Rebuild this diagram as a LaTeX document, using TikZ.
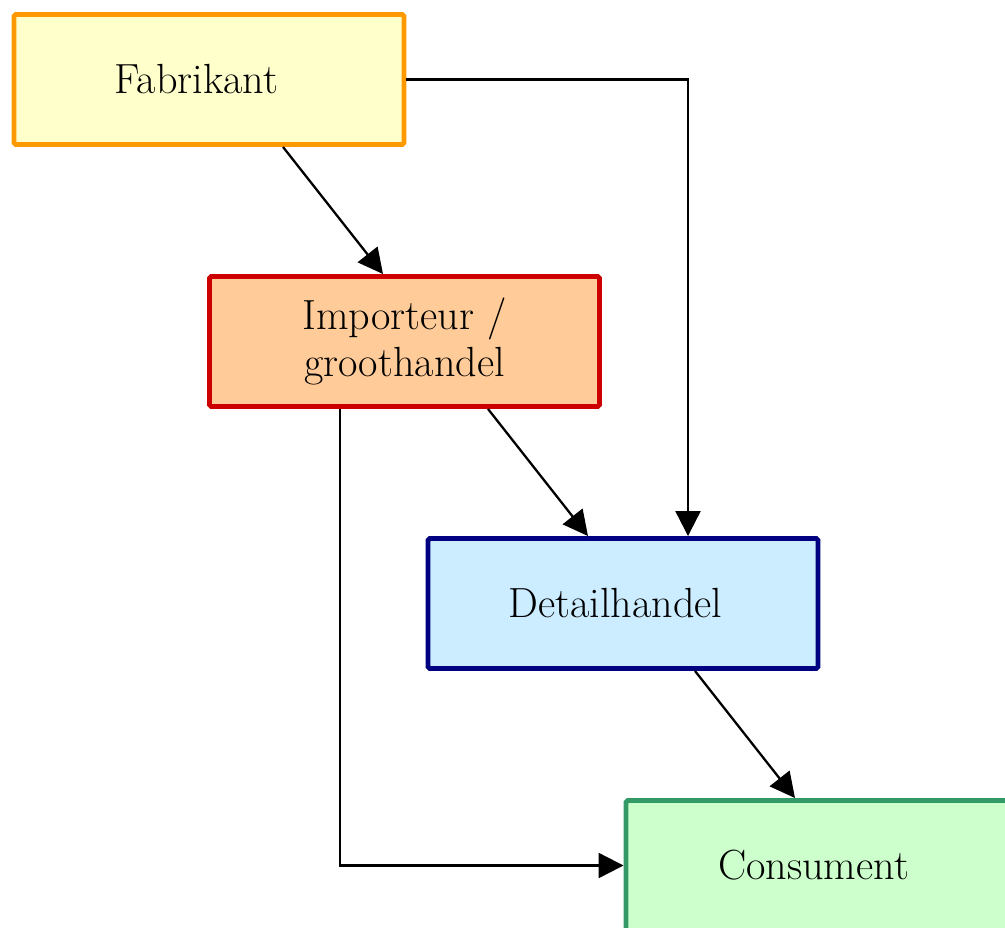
\documentclass[tikz,border=0pt]{standalone}
\usetikzlibrary{arrows.meta}

\definecolor{fabfill}{HTML}{FFFFCC}
\definecolor{fabline}{HTML}{FF9900}
\definecolor{impfill}{HTML}{FFCC99}
\definecolor{impline}{HTML}{CC0000}
\definecolor{detfill}{HTML}{CCECFF}
\definecolor{detline}{HTML}{000080}
\definecolor{conFill}{HTML}{CCFFCC}
\definecolor{conline}{HTML}{339966}

\tikzset{
  schakel/.style={draw, line width=2.8pt, rounded corners=1pt,
    minimum width=7.8cm, minimum height=2.6cm, align=center,
    font=\fontsize{24}{27}\selectfont},
  pijl/.style={line width=1.3pt, -{Triangle[length=0.5cm,width=0.5cm]}}
}

\begin{document}
\begin{tikzpicture}
    \clip (0,0) rectangle (20.1,-18.54);
    \useasboundingbox (0,0) rectangle (20.1,-18.54);

    \node[schakel, fill=fabfill, draw=fabline] (fab) at (4.18,-1.59) {Fabrikant\hspace*{0.5cm}};
    \node[schakel, fill=impfill, draw=impline] (imp) at (8.09,-6.83) {Importeur /\\groothandel};
    \node[schakel, fill=detfill, draw=detline] (det) at (12.46,-12.07) {Detailhandel\hspace*{0.3cm}};
    \node[schakel, fill=conFill, draw=conline] (con) at (16.42,-17.31) {Consument\hspace*{0.3cm}};

    \draw[pijl] ([xshift=1.48cm]fab.south) -- ([xshift=-0.43cm]imp.north);
    \draw[pijl] (fab.east) -| ([xshift=1.3cm]det.north);
    \draw[pijl] ([xshift=1.67cm]imp.south) -- ([xshift=-0.7cm]det.north);
    \draw[pijl] ([xshift=-1.29cm]imp.south) |- (con.west);
    \draw[pijl] ([xshift=1.44cm]det.south) -- ([xshift=-0.52cm]con.north);
  \end{tikzpicture}
\end{document}
